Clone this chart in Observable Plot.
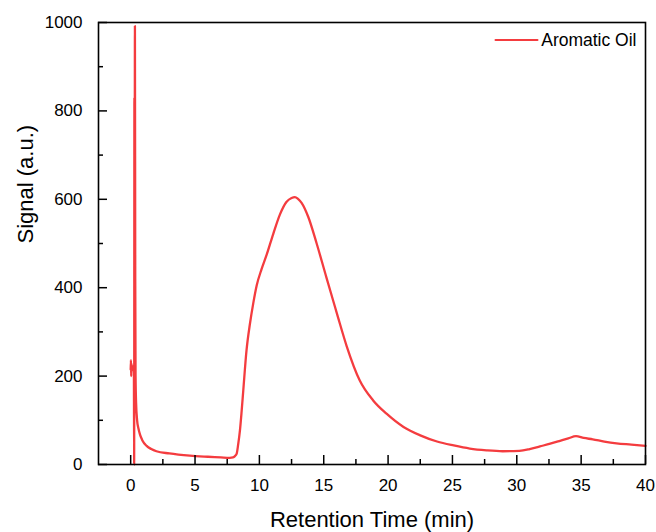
<!DOCTYPE html>
<html><head><meta charset="utf-8">
<script src="https://cdn.jsdelivr.net/npm/d3@7"></script>
<script src="https://cdn.jsdelivr.net/npm/@observablehq/plot@0.6"></script>
<style>body{margin:0;background:#fff;}</style>
</head><body><div id="chart"></div>
<script>
const seriesName = "Aromatic Oil";
const xTitle = "Retention Time (min)";
const yTitle = "Signal (a.u.)";
const time = [0, 0.02, 0.04, 0.06, 0.1, 0.18, 0.25, 0.27, 0.29, 0.31, 0.33, 0.355, 0.38, 0.42, 0.5, 0.6, 0.72, 0.9, 1.24, 1.6, 2.0, 3, 4.6, 6, 7.0, 7.7, 7.95, 8.1, 8.23, 8.35, 8.49, 8.62, 8.75, 9.0, 9.27, 9.52, 9.79, 10.17, 10.56, 11.08, 11.6, 12.1, 12.5, 12.76, 13.0, 13.28, 13.8, 14.45, 15.2, 15.74, 16.1, 16.78, 17.8, 18.84, 19.88, 21.2, 22.5, 23.8, 25.1, 26.35, 27.65, 28.9, 30.2, 31.0, 31.8, 32.6, 33.3, 34.0, 34.6, 35.2, 35.9, 36.8, 37.75, 38.9, 40];
const signal = [215, 236, 200, 228, 212, 222, 215, 0, 830, 380, 992, 420, 200, 140, 100, 82, 68, 55, 42, 35, 30, 25, 20, 17.5, 16, 15, 16, 19, 24, 45, 77, 120, 168, 258, 319, 364, 405, 442, 474, 522, 566, 594, 603, 605, 601, 592, 560, 500, 424, 370, 334, 268, 190, 145, 115, 85, 66, 52, 43, 36, 32, 30, 31, 35, 41, 47, 53, 59, 64, 60, 57, 52, 48, 45, 42];
const xMajor = [0, 5, 10, 15, 20, 25, 30, 35, 40];
const xMinor = [2.5, 7.5, 12.5, 17.5, 22.5, 27.5, 32.5, 37.5];
const yMajor = [0, 200, 400, 600, 800, 1000];
const yMinor = [100, 300, 500, 700, 900];

const W = 656, H = 532, mL = 98, mR = 11, mT = 22, mB = 68;
const innerW = W - mL - mR, innerH = H - mT - mB;
const lineColor = "#f43c3f";
const data = time.map((t, i) => ({t, v: signal[i]}));
const tickShape = {draw(context, l) { context.moveTo(0, 0); context.lineTo(0, -l); }};

const chart = Plot.plot({
  width: W, height: H,
  marginLeft: mL, marginRight: mR, marginTop: mT, marginBottom: mB,
  style: {fontFamily: "'Liberation Sans', Arial, sans-serif", color: "#000", background: "#fff"},
  x: {domain: [-2.5, 40]},
  y: {domain: [0, 1000]},
  marks: [
    Plot.line(data, {x: "t", y: "v", stroke: lineColor, strokeWidth: 2.3, curve: "monotone-x"}),
    Plot.frame({stroke: "#000", strokeWidth: 1.6}),
    Plot.tickX(xMajor, {x: d => d, insetTop: innerH - 9, stroke: "#000", strokeWidth: 1.5}),
    Plot.tickX(xMinor, {x: d => d, insetTop: innerH - 5, stroke: "#000", strokeWidth: 1.5}),
    Plot.tickY(yMajor, {y: d => d, insetRight: innerW - 9, stroke: "#000", strokeWidth: 1.5}),
    Plot.tickY(yMinor, {y: d => d, insetRight: innerW - 5, stroke: "#000", strokeWidth: 1.5}),
    Plot.axisX(xMajor, {tickSize: 0, tickPadding: 14, fontSize: 17, label: null}),
    Plot.axisY(yMajor, {tickSize: 0, tickPadding: 16, fontSize: 17, label: null, tickFormat: d3.format("d")}),
    Plot.text([xTitle], {frameAnchor: "bottom", dy: 55, fontSize: 22, lineAnchor: "middle"}),
    Plot.text([yTitle], {frameAnchor: "left", dx: -73, rotate: -90, fontSize: 22, lineAnchor: "middle"}),
    Plot.vector([seriesName], {frameAnchor: "top-right", dx: -108, dy: 17.5, rotate: 90, length: 42, anchor: "end", shape: tickShape, stroke: lineColor, strokeWidth: 2}),
    Plot.text([seriesName], {frameAnchor: "top-right", dx: -9, dy: 18, textAnchor: "end", fontSize: 17.5, lineAnchor: "middle"})
  ]
});
document.getElementById("chart").appendChild(chart);
</script>
</body></html>
